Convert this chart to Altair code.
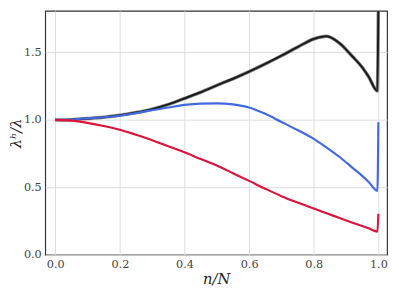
import altair as alt
import pandas as pd

xs = [0.0, 0.05, 0.1, 0.15, 0.2, 0.25, 0.3, 0.35, 0.4, 0.45, 0.5, 0.55, 0.6,
      0.65, 0.7, 0.75, 0.8, 0.84, 0.88, 0.92, 0.95, 0.97, 0.997, 1.0]
black = [1.0, 1.002, 1.01, 1.02, 1.035, 1.055, 1.08, 1.115, 1.159, 1.205, 1.256,
         1.305, 1.358, 1.415, 1.476, 1.54, 1.60, 1.62, 1.568, 1.47, 1.39, 1.32,
         1.215, 1.83]
blue = [1.0, 1.003, 1.012, 1.02, 1.031, 1.05, 1.072, 1.092, 1.111, 1.121, 1.123,
        1.115, 1.092, 1.045, 0.985, 0.925, 0.86, 0.795, 0.725, 0.645, 0.585, 0.54,
        0.474, 0.983]
red = [1.0, 0.995, 0.978, 0.955, 0.927, 0.89, 0.85, 0.805, 0.76, 0.71, 0.662,
       0.605, 0.548, 0.49, 0.435, 0.387, 0.343, 0.308, 0.273, 0.238, 0.213, 0.197,
       0.172, 0.305]

x_ticks = [0.0, 0.2, 0.4, 0.6, 0.8, 1.0]
y_ticks = [0.0, 0.5, 1.0, 1.5]

df = pd.DataFrame({"x": xs, "black": black, "blue": blue, "red": red})

FONT = "DejaVu Serif"

xenc = alt.X("x:Q", scale=alt.Scale(domain=[-0.031, 1.027], nice=False, zero=False),
             axis=alt.Axis(values=x_ticks, format=".1f", title="n/N", grid=True,
                           labelFont=FONT, titleFont=FONT))
def yenc(col):
    return alt.Y(f"{col}:Q", scale=alt.Scale(domain=[0, 1.808], nice=False),
                 axis=alt.Axis(values=y_ticks, format=".1f", title="λʰ/λ", grid=True,
                               labelFont=FONT, titleFont=FONT,
                               titleX=-30, titleBaseline="middle"))

base = alt.Chart(df)
halo = base.mark_line(color="#8a8a8a", strokeWidth=3.6, clip=True, interpolate="monotone").encode(x=xenc, y=yenc("black"))
core = base.mark_line(color="#1a1a1a", strokeWidth=2, clip=True, interpolate="monotone").encode(x=xenc, y=yenc("black"))
bl = base.mark_line(color="#4169E1", strokeWidth=2.2, clip=True, interpolate="monotone").encode(x=xenc, y=yenc("blue"))
rd = base.mark_line(color="#DC143C", strokeWidth=2.2, clip=True, interpolate="monotone").encode(x=xenc, y=yenc("red"))

chart = alt.layer(halo, core, bl, rd).properties(
    width=349, height=249,
    autosize=alt.AutoSizeParams(type="none"),
    padding={"left": 38, "top": 0, "right": 4, "bottom": 36},
).configure(font=FONT).configure_view(
    stroke="#333333", strokeWidth=1.2
).configure_axis(
    labelFontSize=11.5, labelColor="#444444",
    titleFontSize=15, titleFontStyle="italic",
    titleFontWeight="normal", titleColor="#222222",
    gridColor="#dddddd", gridWidth=1, ticks=False, domain=False,
    labelPadding=4,
).configure_axisX(titlePadding=2)

chart.save("out.html", embed_options={"renderer": "svg", "actions": False})
